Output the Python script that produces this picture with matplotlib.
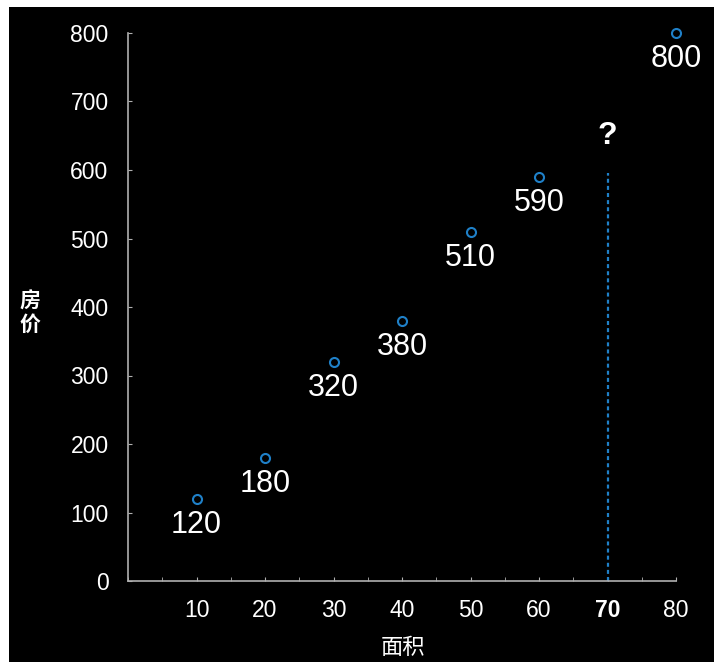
import matplotlib
matplotlib.use("Agg")
import matplotlib.pyplot as plt
from matplotlib.patches import Rectangle

plt.rcParams['font.family'] = ['Liberation Sans', 'Noto Sans CJK SC', 'DejaVu Sans']

# data
area = [10, 20, 30, 40, 50, 60, 80]
price = [120, 180, 320, 380, 510, 590, 800]
query_x = 70
query_top = 595
x_ticks = [10, 20, 30, 40, 50, 60, 70, 80]
y_ticks = [0, 100, 200, 300, 400, 500, 600, 700, 800]

BLUE = "#1f80c8"
GREY = "#b0b0b0"

fig = plt.figure(figsize=(7.14, 6.62), dpi=100, facecolor="white")
# black slide background with thin white margin top/left
fig.patches.append(Rectangle((9 / 714, 0), 1, 1 - 7 / 662, transform=fig.transFigure,
                             facecolor="black", edgecolor="none", zorder=-1))

ax = fig.add_axes([128 / 714, 1 - 581 / 662, (676 - 128) / 714, (581 - 33) / 662])
ax.set_facecolor("black")
ax.set_xlim(0, 80)
ax.set_ylim(0, 800)

for s in ["top", "right"]:
    ax.spines[s].set_visible(False)
for s in ["left", "bottom"]:
    ax.spines[s].set_color(GREY)
    ax.spines[s].set_linewidth(1.2)

ax.set_xticks(range(0, 81, 5), minor=True)
ax.set_xticks(x_ticks)
ax.set_xticklabels([str(v) for v in x_ticks])
ax.set_yticks(y_ticks)
ax.tick_params(axis="both", which="both", direction="in", color=GREY, length=3,
               labelcolor="white", labelsize=16.5)
ax.tick_params(axis="x", pad=13)
ax.tick_params(axis="y", pad=14)
for lbl in ax.get_xticklabels():
    if lbl.get_text() == "70":
        lbl.set_fontweight("bold")

ax.plot(area, price, "o", mfc="none", mec=BLUE, mew=1.5, ms=6.5, clip_on=False, zorder=3)
for x, y in zip(area, price):
    ax.annotate(str(y), (x, y), xytext=(0, -19), textcoords="offset points",
                ha="center", va="center", color="white", fontsize=22, annotation_clip=False)

ax.plot([query_x, query_x], [0, query_top], color=BLUE, lw=1.6,
        linestyle=(0, (1.8, 1.4)), zorder=2)
ax.text(query_x, 650, "?", color="white", fontsize=23, fontweight="bold",
        ha="center", va="center")

fig.text(403 / 714, 1 - 648 / 662, "面积", color="white", fontsize=16,
         ha="center", va="center")
fig.text(30 / 714, 1 - 313 / 662, "房\n价", color="white", fontsize=15,
         fontweight="bold", ha="center", va="center", linespacing=1.25)

fig.savefig("out.png", dpi=100, facecolor="white")
